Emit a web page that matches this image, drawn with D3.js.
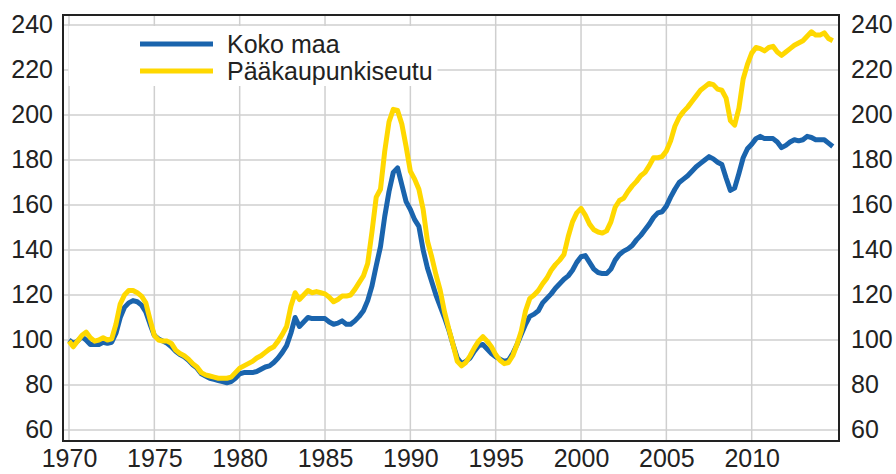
<!DOCTYPE html>
<html><head><meta charset="utf-8">
<script src="https://cdn.jsdelivr.net/npm/d3@7"></script>
<style>html,body{margin:0;padding:0;background:#fff;}svg{display:block;font-family:"Liberation Sans",Arial,sans-serif;}</style>
</head><body>
<svg id="chart" width="896" height="474"></svg>
<script>
const seriesNames = ["Koko maa", "Pääkaupunkiseutu"];
const startYear = 1970; // quarterly observations, first quarter 1970
const kokoMaa = [
100,98.5,99.5,101.5, 100,98,98,98, 99,98.5,99,103, 110,114.5,116.5,117.5,
117,115.5,112.5,107, 102,100.5,99.5,98.5, 97,95,93.5,92.5, 91,89,87.5,85,
84,83,82.5,82, 81.5,81,81.5,83, 85,85.5,85.5,85.5, 86,87,88,88.5,
90,92,94.5,97.5, 103,110,106,108, 110,109.5,109.5,109.5, 109.5,108,107,107.5,
108.5,107,107,108.5, 110.5,113,117.5,124, 133,141.5,155,166, 174.5,176.5,169,161.5,
158,153.5,150.5,140, 132,126,120,115, 110,104.5,98,92, 89.5,90.5,92,95,
97.5,98,96,94, 92.5,91.5,90.5,91, 94,98,102.5,107, 110.5,111.5,113,116.5,
118.5,120.5,123,125, 127,128.5,131,134.5, 137,137.5,134.5,131.5, 130,129.5,129.5,131.5,
135.5,138,139.5,140.5, 142,144.5,146.5,149, 151.5,154.5,156.5,157, 159.5,163.5,167,170,
171.5,173,175,177, 178.5,180,181.5,180.5, 179,178,172,166.5, 167.5,174,181,185,
187,189.5,190.5,189.5, 189.5,189.5,188,185.5, 186.5,188,189,188.5, 189,190.5,190,189,
189,189,187.5,186
];
const paakaupunkiseutu = [
99.5,97,99.5,102, 103.5,101,99.5,100, 101,100,100.5,107, 116,120,122,122,
121,119.5,116.5,109, 102,100,99.5,99.5, 98.5,95.5,94,93, 91.5,89.5,88,85.5,
84.5,84,83.5,83, 83,83,83.5,85.5, 87.5,88.5,89.5,90.5, 92,93,94.5,96,
97,99.5,102.5,106, 115,121,118,120, 122,121,121.5,121, 120.5,119,117,118,
119.5,119.5,120,122.5, 125.5,128.5,134,148, 163.5,167,184,197, 202.5,202,196,186,
175,171.5,167,158, 144,137,129,122, 112.5,105,98,90.5, 88.5,90,93,96.5,
99.5,101.5,99.5,97, 93.5,91,89.5,90, 93,98,104,113, 118.5,120,122,125,
127.5,131,133.5,135.5, 138,146,152.5,156.5, 158.5,155.5,151.5,149, 148,147.5,148.5,152.5,
159,162,163,166, 168.5,170.5,173,174.5, 177.5,181,181,181.5, 184,188.5,195,199,
201.5,203.5,206,208.5, 211,212.5,214,213.5, 211.5,211,207.5,197.5, 195.5,203,216,222.5,
227.5,230,229.5,228.5, 230,230.5,228,226.5, 228,229.5,231,232, 233,235,237,235.5,
235.5,236.5,234,233
];
const yTicks = [60, 80, 100, 120, 140, 160, 180, 200, 220, 240];
const xTicks = [1970, 1975, 1980, 1985, 1990, 1995, 2000, 2005, 2010];
const colors = ["#1a64ad", "#ffd800"];

const svg = d3.select("#chart");
const L = 63, R = 839, T = 15, B = 441;
const x = d3.scaleLinear().domain([1969.648, 2015.115]).range([L, R]);
const y = d3.scaleLinear().domain([55.11, 244.44]).range([B, T]);

// grid
const grid = svg.append("g");
grid.selectAll("line.h").data(yTicks).join("line")
  .attr("x1", L).attr("x2", R).attr("y1", d => y(d)).attr("y2", d => y(d))
  .attr("stroke", "#cfcfcf").attr("stroke-width", 1.5);
grid.selectAll("line.v").data(xTicks).join("line")
  .attr("y1", T).attr("y2", B).attr("x1", d => x(d)).attr("x2", d => x(d))
  .attr("stroke", "#cfcfcf").attr("stroke-width", 1.5);

// legend background box
svg.append("rect").attr("x", 68.5).attr("y", 26).attr("width", 369).attr("height", 60).attr("fill", "#fff");

// lines
const toPts = arr => arr.map((v, i) => [startYear + i / 4, v]);
const line = d3.line().x(d => x(d[0])).y(d => y(d[1])).curve(d3.curveLinear);
[kokoMaa, paakaupunkiseutu].forEach((arr, i) => {
  svg.append("path").datum(toPts(arr)).attr("d", line)
    .attr("fill", "none").attr("stroke", colors[i]).attr("stroke-width", 5)
    .attr("stroke-linejoin", "round").attr("stroke-linecap", "butt");
});

// frame
svg.append("rect").attr("x", L).attr("y", T).attr("width", R - L).attr("height", B - T)
  .attr("fill", "none").attr("stroke", "#222").attr("stroke-width", 2);

// axes labels
const fs = 25;
const leftAx = d3.axisLeft(y).tickValues(yTicks).tickSize(0).tickPadding(10);
const gl = svg.append("g").attr("transform", `translate(${L},0)`).call(leftAx);
const rightAx = d3.axisRight(y).tickValues(yTicks).tickSize(0).tickPadding(12);
const gr = svg.append("g").attr("transform", `translate(${R},0)`).call(rightAx);
const bottomAx = d3.axisBottom(x).tickValues(xTicks).tickFormat(d3.format("d")).tickSize(0).tickPadding(8);
const gb = svg.append("g").attr("transform", `translate(0,${B})`).call(bottomAx);
[gl, gr, gb].forEach(g => {
  g.select(".domain").remove();
  g.selectAll("text").attr("font-size", fs).attr("fill", "#222")
    .attr("font-family", "'Liberation Sans', Arial, sans-serif");
});

// legend
const lg = svg.append("g");
seriesNames.forEach((name, i) => {
  const yy = 44 + i * 27;
  lg.append("line").attr("x1", 140).attr("x2", 213).attr("y1", yy).attr("y2", yy)
    .attr("stroke", colors[i]).attr("stroke-width", 5);
  lg.append("text").attr("x", 227).attr("y", yy + 9).attr("font-size", fs)
    .attr("fill", "#222").text(name);
});
</script>
</body></html>
